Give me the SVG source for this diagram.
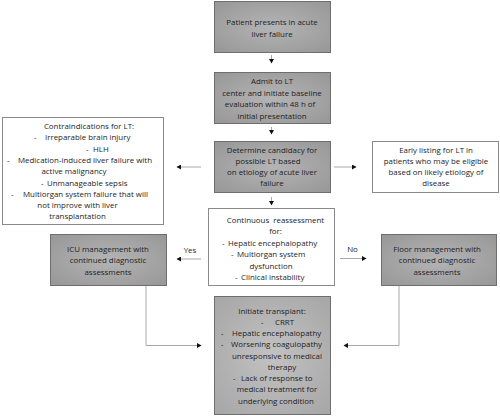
<svg xmlns="http://www.w3.org/2000/svg" width="500" height="417" viewBox="0 0 500 417">
<style>
text{font-family:"Open Sans","Liberation Sans",sans-serif;font-size:7.9px;fill:#1e1e1e;}
.c{text-anchor:middle;}
.g{fill:url(#gr);stroke:#6e6e6e;stroke-width:1;}
.g2{fill:url(#gr2);stroke:#6e6e6e;stroke-width:1;}
.w{fill:#fff;stroke:#8a8a8a;stroke-width:1;}
.ln{fill:none;stroke:#a8a8a8;stroke-width:1;}
</style>
<defs>
<radialGradient id="gr" cx="50%" cy="50%" r="65%">
<stop offset="0" stop-color="#b4b4b4"/>
<stop offset="1" stop-color="#999"/>
</radialGradient>
<radialGradient id="gr2" cx="50%" cy="50%" r="65%">
<stop offset="0" stop-color="#c2c2c2"/>
<stop offset="1" stop-color="#a8a8a8"/>
</radialGradient>
<marker id="ah" markerWidth="5" markerHeight="5" refX="4" refY="2.5" orient="auto" markerUnits="userSpaceOnUse">
<path d="M0,0 L4.5,2.5 L0,5 Z" fill="#111"/>
</marker>
</defs>
<g id="connectors">
<line class="ln" x1="271.5" y1="55" x2="271.5" y2="63" marker-end="url(#ah)"/>
<line class="ln" x1="271.5" y1="127" x2="271.5" y2="134" marker-end="url(#ah)"/>
<line class="ln" x1="201" y1="167" x2="177" y2="167" marker-end="url(#ah)"/>
<line class="ln" x1="334" y1="167" x2="356" y2="167" marker-end="url(#ah)"/>
<line class="ln" x1="271.5" y1="197" x2="271.5" y2="205" marker-end="url(#ah)"/>
<line class="ln" x1="201" y1="259" x2="177" y2="259" marker-end="url(#ah)"/>
<line class="ln" x1="340" y1="258.5" x2="366" y2="258.5" marker-end="url(#ah)"/>
<polyline class="ln" points="146,286 146,345.5 201,345.5" marker-end="url(#ah)"/>
<polyline class="ln" points="399,286 399,345.5 344,345.5" marker-end="url(#ah)"/>
<text class="c" x="190" y="252.5">Yes</text>
<text class="c" x="352.5" y="251.5">No</text>
</g>
<g id="n1">
<rect class="g" x="214.5" y="1.5" width="116" height="51"/>
<text class="c" x="272" y="25">Patient presents in acute</text>
<text class="c" x="272" y="36.5">liver failure</text>
</g>
<g id="n2">
<rect class="g" x="214.5" y="72.5" width="116" height="51"/>
<text class="c" x="272" y="84">Admit to LT</text>
<text class="c" x="272" y="95.5">center and initiate baseline</text>
<text class="c" x="270" y="107">evaluation within 48 h of</text>
<text class="c" x="272" y="118.5">initial presentation</text>
</g>
<g id="n3">
<rect class="g" x="214.5" y="141.5" width="116" height="51"/>
<text class="c" x="272" y="153">Determine candidacy for</text>
<text class="c" x="268" y="164">possible LT based</text>
<text class="c" x="272" y="175">on etiology of acute liver</text>
<text class="c" x="272" y="186">failure</text>
</g>
<g id="contra">
<rect class="w" x="2.5" y="117.5" width="161" height="107"/>
<text class="c" x="89" y="128.5">Contraindications for LT:</text>
<text x="34" y="140">-<tspan x="45">Irreparable brain injury</tspan></text>
<text x="86" y="151.5">-<tspan x="93">HLH</tspan></text>
<text x="7" y="163">-<tspan x="18">Medication-induced liver failure with</tspan></text>
<text class="c" x="74" y="174">active malignancy</text>
<text x="41" y="185.5">-<tspan x="47">Unmanageable sepsis</tspan></text>
<text x="11" y="197">-<tspan x="23">Multiorgan system failure that will</tspan></text>
<text class="c" x="77.5" y="208">not improve with liver</text>
<text class="c" x="77.5" y="219">transplantation</text>
</g>
<g id="early">
<rect class="w" x="372.5" y="141.5" width="126" height="51"/>
<text class="c" x="436" y="153">Early listing for LT in</text>
<text class="c" x="436" y="164">patients who may be eligible</text>
<text class="c" x="436" y="175">based on likely etiology of</text>
<text class="c" x="436" y="186">disease</text>
</g>
<g id="reassess">
<rect class="w" x="208.5" y="208.5" width="126" height="77"/>
<text class="c" x="275.5" y="222.5" xml:space="preserve">Continuous  reassessment</text>
<text class="c" x="275.5" y="234">for:</text>
<text x="222" y="245.5">-<tspan x="228">Hepatic encephalopathy</tspan></text>
<text x="231" y="257">-<tspan x="237">Multiorgan system</tspan></text>
<text class="c" x="271" y="268.5">dysfunction</text>
<text x="235" y="280">-<tspan x="241">Clinical instability</tspan></text>
</g>
<g id="icu">
<rect class="g" x="50.5" y="234.5" width="116" height="51"/>
<text class="c" x="108" y="251.5">ICU management with</text>
<text class="c" x="108" y="263">continued diagnostic</text>
<text class="c" x="108" y="274.5">assessments</text>
</g>
<g id="floor">
<rect class="g" x="381.5" y="234.5" width="115" height="51"/>
<text class="c" x="437" y="251.5">Floor management with</text>
<text class="c" x="437" y="263">continued diagnostic</text>
<text class="c" x="437" y="274.5">assessments</text>
</g>
<g id="transplant">
<rect class="g2" x="214.5" y="296.5" width="116" height="118"/>
<text class="c" x="272" y="313.5">Initiate transplant:</text>
<text x="261" y="325">-<tspan x="275">CRRT</tspan></text>
<text x="221" y="336">-<tspan x="232">Hepatic encephalopathy</tspan></text>
<text x="221" y="347">-<tspan x="231">Worsening coagulopathy</tspan></text>
<text class="c" x="277" y="358.5">unresponsive to medical</text>
<text class="c" x="282" y="369.5">therapy</text>
<text x="233" y="381">-<tspan x="241">Lack of response to</tspan></text>
<text class="c" x="277" y="392">medical treatment for</text>
<text class="c" x="276" y="403.5">underlying condition</text>
</g>
</svg>
